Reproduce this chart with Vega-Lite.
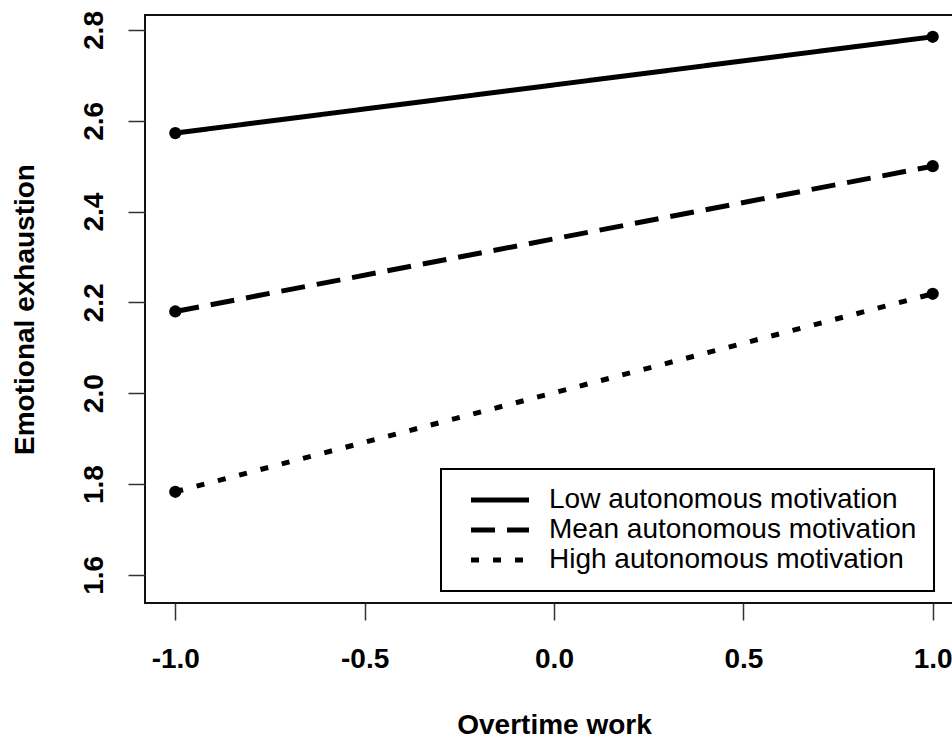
{
  "$schema": "https://vega.github.io/schema/vega-lite/v6.json",
  "width": 818,
  "height": 588,
  "autosize": "none",
  "padding": {"left": 145, "top": 15, "right": 0, "bottom": 137},
  "background": "white",
  "config": {"view": {"stroke": "#111", "strokeWidth": 2}, "font": "Liberation Sans"},
  "data": {"values": [
    {"group": "Low autonomous motivation", "overtime": -1, "exhaustion": 2.573},
    {"group": "Low autonomous motivation", "overtime": 1, "exhaustion": 2.785},
    {"group": "Mean autonomous motivation", "overtime": -1, "exhaustion": 2.18},
    {"group": "Mean autonomous motivation", "overtime": 1, "exhaustion": 2.5},
    {"group": "High autonomous motivation", "overtime": -1, "exhaustion": 1.783},
    {"group": "High autonomous motivation", "overtime": 1, "exhaustion": 2.219}
  ]},
  "encoding": {
    "x": {"field": "overtime", "type": "quantitative",
      "scale": {"domain": [-1.08, 1.08], "nice": false, "zero": false},
      "axis": {"values": [-1, -0.5, 0, 0.5, 1],
        "labelExpr": "datum.value < 0 ? '-' + format(-datum.value, '.1f') : format(datum.value, '.1f')",
        "grid": false, "domain": false, "tickSize": 17, "tickColor": "#333", "tickWidth": 1.5,
        "labelFontSize": 28, "labelFontWeight": "bold", "labelColor": "black", "labelPadding": 25,
        "labelFont": "Liberation Sans", "labelBaseline": "top", "labelFlush": false, "labelOverlap": false,
        "title": "Overtime work", "titleFontSize": 28, "titleFontWeight": "bold", "titleFont": "Liberation Sans",
        "titleColor": "black", "titleX": 409, "titleY": 122, "titleBaseline": "middle", "titleAlign": "center"}},
    "y": {"field": "exhaustion", "type": "quantitative",
      "scale": {"domain": [1.538, 2.833], "nice": false, "zero": false},
      "axis": {"values": [1.6, 1.8, 2.0, 2.2, 2.4, 2.6, 2.8], "format": ".1f",
        "grid": false, "domain": false, "tickSize": 17, "tickColor": "#333", "tickWidth": 1.5,
        "labelFontSize": 28, "labelFontWeight": "bold", "labelColor": "black", "labelPadding": 26,
        "labelFont": "Liberation Sans", "labelAngle": -90, "labelAlign": "center", "labelBaseline": "alphabetic",
        "labelFlush": false, "labelOverlap": false,
        "title": "Emotional exhaustion", "titleFontSize": 28, "titleFontWeight": "bold", "titleFont": "Liberation Sans",
        "titleColor": "black", "titleAngle": -90, "titleX": -120, "titleY": 294, "titleBaseline": "middle", "titleAlign": "center"}}
  },
  "layer": [
    {"mark": {"type": "line", "color": "black", "strokeWidth": 5, "strokeCap": "butt"},
     "encoding": {
       "strokeDash": {"field": "group", "type": "nominal",
         "scale": {"domain": ["Low autonomous motivation", "Mean autonomous motivation", "High autonomous motivation"],
                   "range": [[1, 0], [24, 12], [8, 14]]},
         "legend": {"orient": "none", "legendX": 296, "legendY": 454, "title": null,
           "strokeColor": "black", "fillColor": "white", "padding": 17,
           "labelFontSize": 28, "labelFont": "Liberation Sans", "labelColor": "black", "labelOffset": 63,
           "labelExpr": "datum.label + '\u00a0\u00a0\u00a0\u00a0\u00a0'",
           "symbolType": "M-0.1,0H5.7", "symbolSize": 400, "symbolStrokeWidth": 5, "symbolStrokeColor": "black",
           "symbolFillColor": "black", "rowPadding": 2, "labelLimit": 600,
           "encode": {"legend": {"update": {"strokeWidth": {"value": 2}}}}}}
     }},
    {"mark": {"type": "point", "filled": true, "color": "black", "size": 150, "opacity": 1},
     "encoding": {"detail": {"field": "group", "type": "nominal"}}}
  ]
}
